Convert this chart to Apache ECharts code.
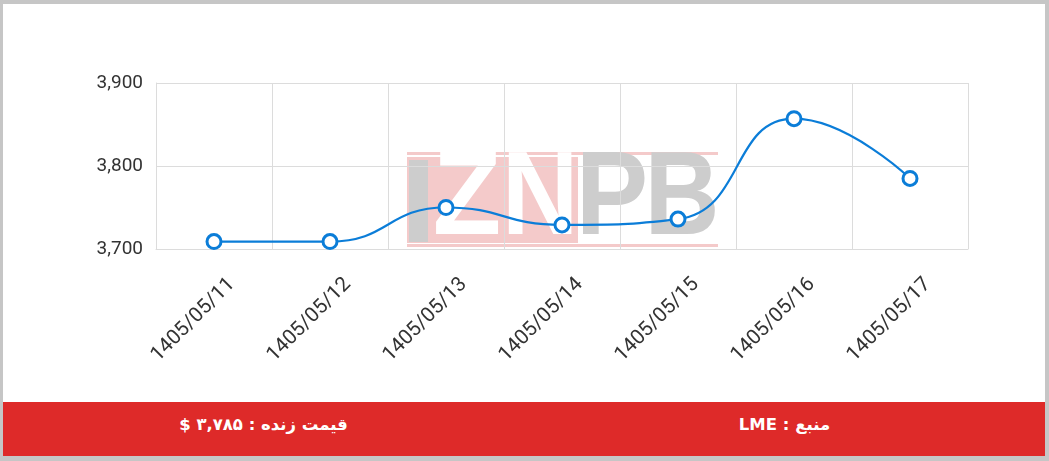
<!DOCTYPE html>
<html>
<head>
<meta charset="utf-8">
<script src="https://cdn.jsdelivr.net/npm/echarts@6/dist/echarts.min.js"></script>
<style>
  html, body { margin: 0; padding: 0; width: 1049px; height: 461px; overflow: hidden; background: #fff; }
  #frame { position: absolute; left: 0; top: 0; width: 1049px; height: 461px; box-sizing: border-box;
           border-style: solid; border-color: #c6c6c6; border-width: 4px 4px 5px 3px; background: #fff; }
  #chart { position: absolute; left: 0; top: 0; width: 1049px; height: 461px; }
  #footer { position: absolute; left: 3px; top: 402px; width: 1042px; height: 54px; background: #de2a29;
            display: flex; direction: rtl; font-family: 'DejaVu Sans', sans-serif; color: #fff; font-size: 16.5px; font-weight: bold; }
  #footer div { flex: 1; text-align: center; line-height: 45px; }
</style>
</head>
<body>
<div id="frame"></div>
<div id="chart"></div>
<div id="footer">
  <div dir="rtl">منبع : LME</div>
  <div dir="rtl">قیمت زنده : ۳,۷۸۵ $</div>
</div>
<script>
const categories = ['1405/05/11', '1405/05/12', '1405/05/13', '1405/05/14', '1405/05/15', '1405/05/16', '1405/05/17'];
const prices = [3709, 3709, 3750, 3729, 3736, 3857, 3785];
const yMin = 3700, yMax = 3900, yStep = 100;

const chart = echarts.init(document.getElementById('chart'), null, { renderer: 'canvas' });
const pink = '#f4caca', gray = '#cdcdcd';
const wm = { fontSize: 118, fontWeight: 'bold', fontFamily: '"Liberation Sans", Arial, sans-serif', align: 'center', verticalAlign: 'middle' };
chart.setOption({
  animation: false,
  backgroundColor: 'transparent',
  grid: { left: 156, right: 81, top: 83, bottom: 212 },
  graphic: [
    { type: 'rect', z: -10, shape: { x: 407, y: 152, width: 311, height: 3 }, style: { fill: pink } },
    { type: 'rect', z: -10, shape: { x: 407, y: 244, width: 311, height: 3 }, style: { fill: pink } },
    { type: 'rect', z: -10, shape: { x: 407, y: 157, width: 171, height: 86 }, style: { fill: pink } },
    { type: 'rect', z: -9, shape: { x: 409, y: 160, width: 19, height: 82 }, style: { fill: gray } },
    { type: 'text', z: -9, x: 467, y: 201, scaleX: 0.95, style: Object.assign({ text: 'Z', fill: '#ffffff' }, wm) },
    { type: 'text', z: -9, x: 540, y: 201, scaleX: 0.9, style: Object.assign({ text: 'N', fill: '#ffffff' }, wm) },
    { type: 'text', z: -9, x: 612, y: 201, scaleX: 0.92, style: Object.assign({ text: 'P', fill: gray }, wm) },
    { type: 'text', z: -9, x: 682, y: 201, scaleX: 0.88, style: Object.assign({ text: 'B', fill: gray }, wm) }
  ],
  xAxis: {
    type: 'category',
    data: categories,
    boundaryGap: true,
    axisLine: { show: true, lineStyle: { color: '#dcdcdc', width: 1 } },
    axisTick: { show: false },
    splitLine: { show: true, lineStyle: { color: '#dcdcdc', width: 1 } },
    axisLabel: {
      rotate: 45, interval: 0, margin: 50, padding: [0, -25, 0, 0],
      color: '#333333', fontSize: 20.5, fontFamily: 'Roboto, sans-serif'
    }
  },
  yAxis: {
    type: 'value',
    min: yMin, max: yMax, interval: yStep,
    axisLine: { show: true, lineStyle: { color: '#dcdcdc', width: 1 } },
    axisTick: { show: false },
    splitLine: { show: true, lineStyle: { color: '#dcdcdc', width: 1 } },
    axisLabel: {
      margin: 13, color: '#333333', fontSize: 19, fontFamily: 'Roboto, sans-serif',
      formatter: v => v.toLocaleString('en-US')
    }
  },
  series: [{
    type: 'line',
    data: prices,
    smooth: true,
    symbol: 'circle',
    symbolSize: 14,
    color: '#0b7dd8',
    lineStyle: { width: 2.2, color: '#0b7dd8' },
    itemStyle: { color: '#ffffff', borderWidth: 3, borderColor: '#0b7dd8' }
  }]
});
</script>
</body>
</html>
